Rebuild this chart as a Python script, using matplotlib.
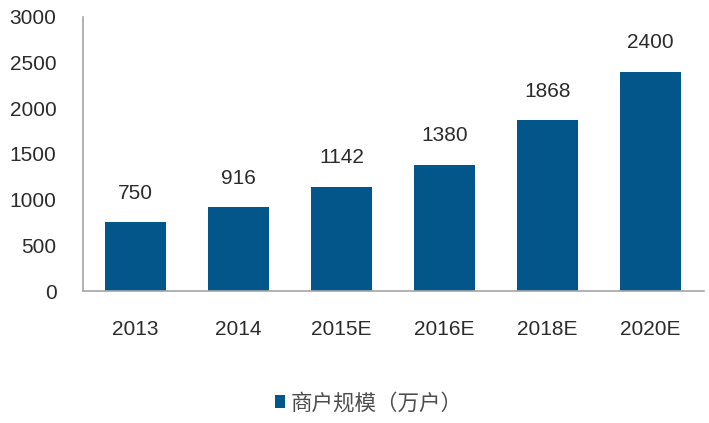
import matplotlib

matplotlib.use("Agg")
import matplotlib.pyplot as plt
import numpy as np

plt.rcParams["font.family"] = ["Liberation Sans", "Noto Sans CJK SC", "DejaVu Sans"]

categories = ["2013", "2014", "2015E", "2016E", "2018E", "2020E"]
merchants = [750, 916, 1142, 1380, 1868, 2400]
series_name = "商户规模（万户）"
y_ticks = [0, 500, 1000, 1500, 2000, 2500, 3000]

bar_color = "#03568A"
text_color = "#2B2B2B"
legend_text_color = "#4D4D4D"
axis_color = "#A6A6A6"

fig = plt.figure(figsize=(7.09, 4.23), dpi=100)
ax = fig.add_axes([0.117, 0.312, 0.876, 0.648])

x = np.arange(len(categories))
bars = ax.bar(x, merchants, width=0.59, color=bar_color, label=series_name, zorder=2)

# value labels above each bar
for xi, v in zip(x, merchants):
    ax.annotate(str(v), (xi, v), xytext=(0, 14), textcoords="offset points",
                ha="center", va="bottom", fontsize=15, color=text_color)

ax.set_xlim(-0.51, len(categories) - 0.48)
ax.set_ylim(0, 3000)
ax.set_yticks(y_ticks)
ax.set_xticks(x)
ax.set_xticklabels(categories)
ax.tick_params(axis="both", length=0, labelsize=15, labelcolor=text_color)
ax.tick_params(axis="x", pad=21)
ax.tick_params(axis="y", pad=19)

for side in ("top", "right"):
    ax.spines[side].set_visible(False)
for side in ("left", "bottom"):
    ax.spines[side].set_color(axis_color)
    ax.spines[side].set_linewidth(1.2)

fig.legend(handles=[bars], labels=[series_name], loc="center", bbox_to_anchor=(0.52, 0.047),
           frameon=False, handlelength=0.5, handleheight=0.5,
           handletextpad=0.25, labelcolor=legend_text_color,
           prop={"family": ["Noto Sans CJK SC"], "size": 15.5})

fig.savefig("out.png", dpi=100)
